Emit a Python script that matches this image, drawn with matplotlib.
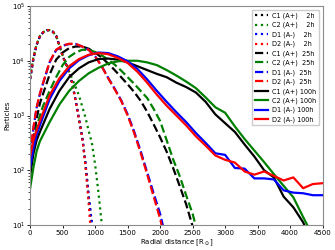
import matplotlib
matplotlib.use('Agg')
import matplotlib.pyplot as plt


# distances [R_sun]
x_2h = [0, 50, 100, 150, 200, 250, 300, 350, 400, 450, 500, 550, 600, 650,
        700, 750, 800, 850, 900, 950, 1000, 1050, 1100, 1150]
x_25h = [0, 50, 100, 150, 200, 300, 400, 500, 600, 700, 800, 900, 1000, 1100,
         1200, 1300, 1400, 1500, 1600, 1700, 1800, 1900, 2000, 2100, 2200,
         2300, 2400, 2500, 2600]
x_100h = [0, 50, 100, 150, 300, 450, 600, 750, 900, 1050, 1200, 1350, 1500,
          1650, 1800, 1950, 2100, 2250, 2400, 2550, 2700, 2850, 3000, 3150,
          3300, 3450, 3600, 3750, 3900, 4050, 4200, 4350, 4500]

# 2h
c1_2h = [4600, 10800, 19500, 27800, 32800, 36000, 36200, 33800, 28700, 18700,
         12300, 8700, 6200, 3700, 1850, 870, 410, 135, 33, 10, 2, 1, 1, 1]
c2_2h = [5000, 11500, 20000, 28200, 33100, 36300, 36300, 33900, 28500, 19000,
         12600, 9000, 6300, 4570, 3310, 2340, 1480, 930, 525, 316, 126, 40,
         11, 2]
d1_2h = [4700, 11000, 19800, 28000, 33000, 36000, 36300, 33900, 28800, 18800,
         12400, 8800, 6300, 3800, 1900, 890, 420, 141, 35, 11, 2.5, 1, 1, 1]
d2_2h = [4800, 11200, 20000, 28200, 33100, 36300, 36300, 33900, 28800, 18600,
         12300, 8700, 6300, 3800, 1860, 850, 400, 126, 25, 4, 1, 1, 1, 1]

# 25h
c1_25h = [126, 355, 891, 1660, 2510, 5620, 10470, 14130, 16980, 18200, 18200,
          16600, 14130, 11480, 8910, 6760, 5010, 3720, 2690, 1860, 1175, 692,
          398, 219, 110, 52, 24, 9.5, 3.2]
c2_25h = [112, 282, 603, 1000, 1510, 2820, 5010, 8320, 11750, 14130, 15850,
          15850, 14450, 12590, 10470, 8510, 6610, 5010, 3800, 2820, 2090, 1320,
          794, 355, 158, 79, 35, 16, 5.6]
d1_25h = [190, 580, 1380, 2450, 3900, 9400, 15600, 18800, 20200, 20200, 18200,
          15850, 12000, 8000, 4900, 3100, 1900, 1050, 510, 225, 92, 38, 16, 5,
          1, 1, 1, 1, 1]
d2_25h = [200, 600, 1410, 2510, 3980, 9550, 15850, 19050, 20400, 20400, 18200,
          15850, 12000, 7940, 4790, 3020, 1860, 1000, 480, 209, 85, 33, 13, 4,
          1, 1, 1, 1, 1]

# 100h
c1_100h = [79, 200, 355, 501, 1318, 2818, 5012, 7244, 9333, 10715, 10965,
           10471, 9333, 7943, 6761, 5754, 5012, 3981, 3311, 2630, 1778, 1047,
           724, 501, 295, 178, 100, 74, 33, 21, 11.2, 4.5, 2]
c2_100h = [47, 112, 224, 339, 759, 1585, 2818, 4266, 5888, 7413, 8913, 9772,
           10000, 10000, 9333, 8318, 6761, 5370, 4169, 3162, 2138, 1413, 1122,
           631, 372, 229, 141, 85, 52, 32, 14, 6.3, 2.5]
d1_100h = [112, 251, 447, 661, 1995, 4266, 7244, 10233, 12589, 14125, 13804,
           12023, 9772, 7079, 4571, 2818, 1778, 1148, 759, 479, 316, 204, 191,
           110, 107, 71, 71, 68, 43, 39, 38, 35, 35]
d2_100h = [178, 355, 537, 794, 2344, 4786, 7943, 10715, 12882, 13804, 13183,
           11220, 9120, 6310, 3981, 2399, 1514, 1000, 661, 417, 282, 186, 155,
           138, 95, 83, 95, 79, 65, 74, 47, 56, 58]

names = ['C1 (A+)', 'C2 (A+)', 'D1 (A-)', 'D2 (A-)']
colors = ['k', 'g', 'b', 'r']


fig = plt.figure(figsize=(3.35, 2.5), dpi=100)
ax = fig.add_axes([0.09, 0.1, 0.873, 0.876])

groups = [
    (x_2h, [c1_2h, c2_2h, d1_2h, d2_2h], ':', '    2h'),
    (x_25h, [c1_25h, c2_25h, d1_25h, d2_25h], '--', '  25h'),
    (x_100h, [c1_100h, c2_100h, d1_100h, d2_100h], '-', ' 100h'),
]
for xs, series, ls, tag in groups:
    for ys, name, col in zip(series, names, colors):
        ax.plot(xs, ys, ls=ls, color=col, lw=1.6, label=name + tag)

ax.set_yscale('log')
ax.set_xlim(0, 4500)
ax.set_ylim(10, 1e5)
ax.set_xticks(range(0, 4501, 500))
ax.tick_params(labelsize=5, length=2, width=0.6, pad=1.5)
ax.tick_params(which='minor', length=1.2, width=0.5)
for sp in ax.spines.values():
    sp.set_color('0.55')
    sp.set_linewidth(0.8)

ax.set_xlabel(r'Radial distance [R$_\odot$]', fontsize=5, labelpad=1.5)
ax.set_ylabel('Particles', fontsize=5, labelpad=1)

ax.legend(loc='upper right', fontsize=4.7, labelspacing=0.45,
          handlelength=2.0, handletextpad=0.6, borderpad=0.4,
          borderaxespad=0.6, fancybox=False, edgecolor='0.8', framealpha=1)

fig.savefig('out.png', dpi=100)
